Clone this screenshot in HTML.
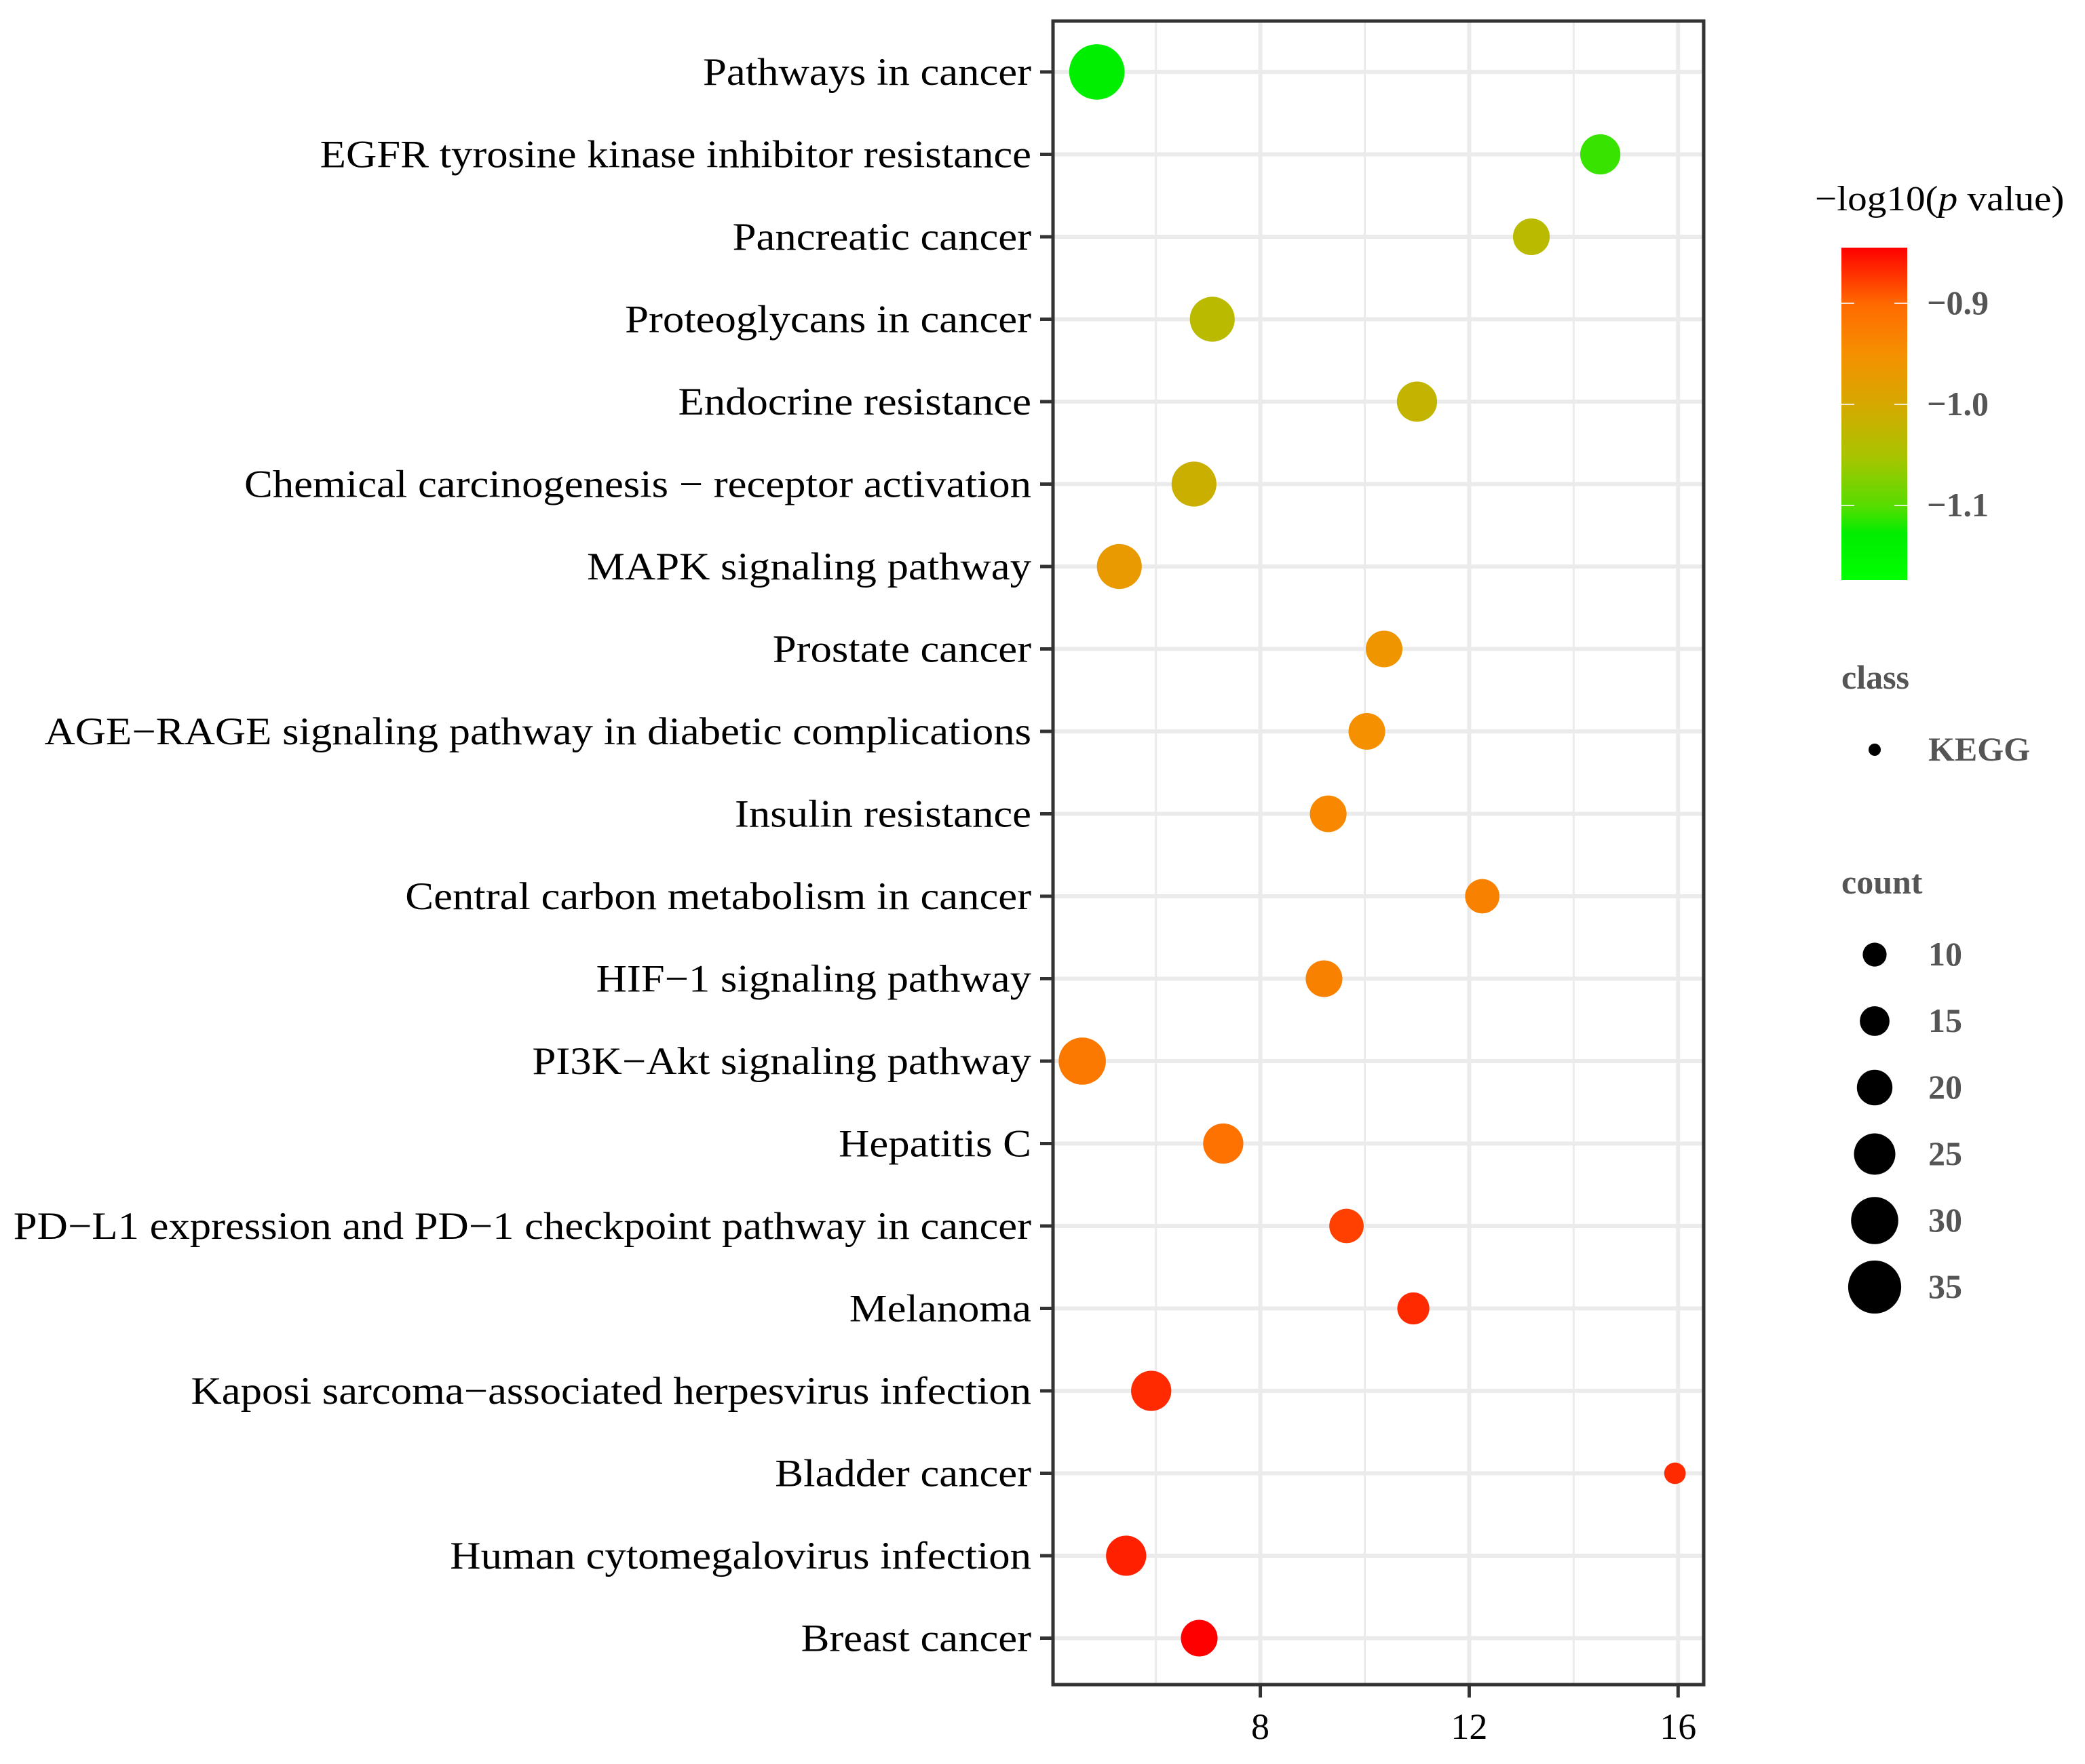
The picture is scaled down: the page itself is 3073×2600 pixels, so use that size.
<!DOCTYPE html>
<html><head><meta charset="utf-8"><style>
html,body{margin:0;padding:0;background:#fff;}
svg{display:block;font-family:"Liberation Serif",serif;}
</style></head><body>
<svg id="chart" width="3073" height="2600" viewBox="0 0 3073 2600" xmlns="http://www.w3.org/2000/svg">
<g id="grid"></g>
<g id="points"></g>
<rect x="1552" y="31" width="959" height="2452" fill="none" stroke="#333" stroke-width="5"/>
<g id="yaxis"></g>
<g id="xaxis"></g>
<g id="legend">
  <text class="wide" x="2675" y="310" font-size="52">−log10(<tspan font-style="italic">p</tspan> value)</text>
  <defs><linearGradient id="cg" x1="0" y1="0" x2="0" y2="1">
    <stop offset="0" stop-color="#ff0000"/><stop offset="0.17" stop-color="#ff6a00"/>
    <stop offset="0.32" stop-color="#f59000"/><stop offset="0.48" stop-color="#d4aa00"/>
    <stop offset="0.63" stop-color="#a8c400"/><stop offset="0.78" stop-color="#55dd00"/>
    <stop offset="0.86" stop-color="#00ee00"/><stop offset="1" stop-color="#00ff00"/>
  </linearGradient></defs>
  <rect x="2714" y="365" width="97" height="490" fill="url(#cg)"/>
  <g id="cticks"></g>
  <text x="2714" y="1015" font-size="50" font-weight="bold" fill="#555">class</text>
  <circle cx="2763" cy="1105" r="9" fill="#000"/>
  <text x="2842" y="1121" font-size="50" font-weight="bold" fill="#555">KEGG</text>
  <text x="2714" y="1317" font-size="50" font-weight="bold" fill="#555">count</text>
  <g id="sizeleg"></g>
</g>
</svg>
<script>
const pathways = ["Pathways in cancer","EGFR tyrosine kinase inhibitor resistance","Pancreatic cancer","Proteoglycans in cancer","Endocrine resistance","Chemical carcinogenesis − receptor activation","MAPK signaling pathway","Prostate cancer","AGE−RAGE signaling pathway in diabetic complications","Insulin resistance","Central carbon metabolism in cancer","HIF−1 signaling pathway","PI3K−Akt signaling pathway","Hepatitis C","PD−L1 expression and PD−1 checkpoint pathway in cancer","Melanoma","Kaposi sarcoma−associated herpesvirus infection","Bladder cancer","Human cytomegalovirus infection","Breast cancer"];
const xValues = [4.87,14.51,13.19,7.08,11.0,6.73,5.30,10.37,10.04,9.30,12.25,9.22,4.59,7.29,9.65,10.93,5.91,15.94,5.43,6.83];
const counts = [37,24,21,28,24,28,28,21,21,21,19,21,30,24,19,17,24,8,24,21];
const logP = [-1.14,-1.11,-1.03,-1.03,-1.02,-1.01,-0.97,-0.96,-0.95,-0.94,-0.93,-0.93,-0.92,-0.91,-0.88,-0.87,-0.87,-0.87,-0.865,-0.85];
const xTicks = [8,12,16];
const xMinor = [6,10,14];
const colorTicks = [-0.9,-1.0,-1.1];
const sizeLegend = [10,15,20,25,30,35];

const NS="http://www.w3.org/2000/svg";
const X0=1552,X1=2511,XMIN=4.03,XMAX=16.49;
const xs=v=>X0+(v-XMIN)/(XMAX-XMIN)*(X1-X0);
const ys=i=>106+i*121.5;
const rs=c=>(17.6+(c-10)*0.86);
const cy=v=>365+(-0.845-v)/0.1*149;
const stops=[[-0.85,[255,0,0]],[-0.9,[255,106,0]],[-0.95,[245,144,0]],[-1.0,[212,170,0]],[-1.05,[168,196,0]],[-1.1,[85,221,0]],[-1.13,[0,238,0]]];
function col(v){
  if(v>=stops[0][0])return "rgb(255,0,0)";
  for(let i=0;i<stops.length-1;i++){const a=stops[i],b=stops[i+1];
    if(v<=a[0]&&v>=b[0]){const t=(a[0]-v)/(a[0]-b[0]);
      return "rgb("+a[1].map((c,k)=>Math.round(c+(b[1][k]-c)*t)).join(",")+")";}}
  return "rgb(0,238,0)";
}
function mk(tag,attrs,parent){const e=document.createElementNS(NS,tag);for(const k in attrs)e.setAttribute(k,attrs[k]);parent.appendChild(e);return e;}
function stretch(el,f){const w=el.getComputedTextLength();el.setAttribute('textLength',(w*f).toFixed(1));el.setAttribute('lengthAdjust','spacingAndGlyphs');}
const grid=document.getElementById('grid'),pts=document.getElementById('points'),ya=document.getElementById('yaxis'),xa=document.getElementById('xaxis');
xMinor.forEach(v=>{const l=mk('line',{x1:xs(v),x2:xs(v),y1:31,y2:2483,stroke:'#ebebeb','stroke-width':3},grid);

});
xTicks.forEach(v=>{const l=mk('line',{x1:xs(v),x2:xs(v),y1:31,y2:2483,stroke:'#ebebeb','stroke-width':6},grid);


const t=mk('line',{x1:xs(v),x2:xs(v),y1:2483,y2:2502,stroke:'#333','stroke-width':5},xa);


const tx=mk('text',{x:xs(v),y:2563,'font-size':54,'text-anchor':'middle'},xa);tx.textContent=v;

});
pathways.forEach((p,i)=>{
const l=mk('line',{x1:X0,x2:X1,y1:ys(i),y2:ys(i),stroke:'#ebebeb','stroke-width':6},grid);


const t=mk('line',{x1:1533,x2:1552,y1:ys(i),y2:ys(i),stroke:'#333','stroke-width':5},ya);


const tx=mk('text',{x:1520,y:ys(i)+19,'font-size':57,'text-anchor':'end'},ya);tx.textContent=p;


stretch(tx,1.1);
const c=mk('circle',{cx:xs(xValues[i]),cy:ys(i),r:rs(counts[i]),fill:col(logP[i])},pts);


});
stretch(document.querySelector('text.wide'),1.1);
const ct=document.getElementById('cticks');
colorTicks.forEach(v=>{
const a=mk('line',{x1:2714,x2:2733,y1:cy(v),y2:cy(v),stroke:'#fff','stroke-width':2,opacity:0.8},ct);


const b=mk('line',{x1:2792,x2:2811,y1:cy(v),y2:cy(v),stroke:'#fff','stroke-width':2,opacity:0.8},ct);


const tx=mk('text',{x:2840,y:cy(v)+16,'font-size':50,'font-weight':'bold',fill:'#555'},ct);tx.textContent='−'+Math.abs(v).toFixed(1);

});
const sl=document.getElementById('sizeleg');
sizeLegend.forEach((c,i)=>{const y=1407+i*98;
const e=mk('circle',{cx:2763,cy:y,r:rs(c),fill:'#000'},sl);


const tx=mk('text',{x:2842,y:y+16,'font-size':50,'font-weight':'bold',fill:'#555'},sl);tx.textContent=c;

});
</script>
</body></html>
